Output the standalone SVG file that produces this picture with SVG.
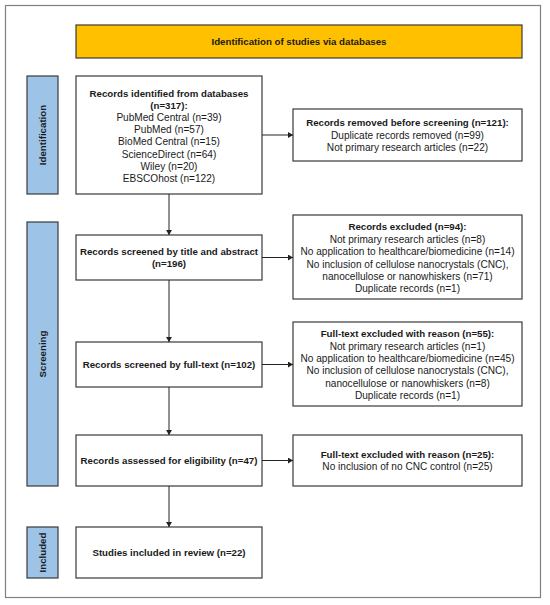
<svg xmlns="http://www.w3.org/2000/svg" width="550" height="605" viewBox="0 0 550 605">
<style>
.box{fill:#fff;stroke:#3a3a3a;stroke-width:1.2}
.side{fill:#9dc3e6;stroke:#3a3a3a;stroke-width:1.2}
.ban{fill:#ffc000;stroke:#3a3a3a;stroke-width:1.2}
.t{font-family:"Liberation Sans",Arial,sans-serif;font-size:10.1px;fill:#1a1a1a;text-anchor:middle}
.b{font-weight:bold;font-size:9.7px}
.conn{stroke:#222;stroke-width:1;fill:none}
</style>
<defs>
<marker id="ah" markerWidth="6" markerHeight="6" refX="5" refY="3" orient="auto" markerUnits="userSpaceOnUse">
<path d="M0,0 L5,3 L0,6 Z" fill="#222"/>
</marker>
</defs>
<rect x="5.5" y="5.5" width="535" height="592" fill="#fff" stroke="#808080" stroke-width="1.2"/>
<g id="banner">
<rect class="ban" x="76" y="25" width="446" height="33"/>
<text class="t b" x="299" y="44.5">Identification of studies via databases</text>
</g>
<g id="side-identification">
<rect class="side" x="27" y="76" width="31" height="118"/>
<text class="t b" transform="translate(46,135) rotate(-90)">Identification</text>
</g>
<g id="side-screening">
<rect class="side" x="27" y="222" width="31" height="264"/>
<text class="t b" transform="translate(46,354) rotate(-90)">Screening</text>
</g>
<g id="side-included">
<rect class="side" x="27" y="527" width="31" height="51"/>
<text class="t b" transform="translate(46,552.5) rotate(-90)">Included</text>
</g>
<g id="identified">
<rect class="box" x="76" y="76" width="186" height="118"/>
<text class="t b" x="169" y="96.6">Records identified from databases</text>
<text class="t b" x="169" y="108.8">(n=317):</text>
<text class="t" x="169" y="121">PubMed Central (n=39)</text>
<text class="t" x="169" y="133.2">PubMed (n=57)</text>
<text class="t" x="169" y="145.4">BioMed Central (n=15)</text>
<text class="t" x="169" y="157.6">ScienceDirect (n=64)</text>
<text class="t" x="169" y="169.8">Wiley (n=20)</text>
<text class="t" x="169" y="182">EBSCOhost (n=122)</text>
</g>
<g id="removed">
<rect class="box" x="293" y="109" width="229" height="52"/>
<text class="t b" x="407.5" y="126.4">Records removed before screening (n=121):</text>
<text class="t" x="407.5" y="138.6">Duplicate records removed (n=99)</text>
<text class="t" x="407.5" y="150.8">Not primary research articles (n=22)</text>
</g>
<g id="screened">
<rect class="box" x="76" y="235" width="186" height="45"/>
<text class="t b" x="169" y="255">Records screened by title and abstract</text>
<text class="t b" x="169" y="267.2">(n=196)</text>
</g>
<g id="excluded">
<rect class="box" x="293" y="215" width="229" height="84"/>
<text class="t b" x="407.5" y="230.3">Records excluded (n=94):</text>
<text class="t" x="407.5" y="242.7">Not primary research articles (n=8)</text>
<text class="t" x="407.5" y="255.1">No application to healthcare/biomedicine (n=14)</text>
<text class="t" x="407.5" y="267.5">No inclusion of cellulose nanocrystals (CNC),</text>
<text class="t" x="407.5" y="279.9">nanocellulose or nanowhiskers (n=71)</text>
<text class="t" x="407.5" y="292.3">Duplicate records (n=1)</text>
</g>
<g id="fulltext">
<rect class="box" x="76" y="342" width="186" height="45"/>
<text class="t b" x="169" y="368.1">Records screened by full-text (n=102)</text>
</g>
<g id="ftexcl55">
<rect class="box" x="293" y="322" width="229" height="84"/>
<text class="t b" x="407.5" y="337.3">Full-text excluded with reason (n=55):</text>
<text class="t" x="407.5" y="349.6">Not primary research articles (n=1)</text>
<text class="t" x="407.5" y="361.9">No application to healthcare/biomedicine (n=45)</text>
<text class="t" x="407.5" y="374.2">No inclusion of cellulose nanocrystals (CNC),</text>
<text class="t" x="407.5" y="386.5">nanocellulose or nanowhiskers (n=8)</text>
<text class="t" x="407.5" y="398.8">Duplicate records (n=1)</text>
</g>
<g id="eligibility">
<rect class="box" x="76" y="435" width="186" height="51"/>
<text class="t b" x="169" y="464.1">Records assessed for eligibility (n=47)</text>
</g>
<g id="ftexcl25">
<rect class="box" x="293" y="435" width="229" height="51"/>
<text class="t b" x="407.5" y="458">Full-text excluded with reason (n=25):</text>
<text class="t" x="407.5" y="470.2">No inclusion of no CNC control (n=25)</text>
</g>
<g id="included">
<rect class="box" x="76" y="527" width="186" height="51"/>
<text class="t b" x="169" y="556.1">Studies included in review (n=22)</text>
</g>
<g id="connectors">
<line class="conn" x1="169" y1="194" x2="169" y2="235" marker-end="url(#ah)"/>
<line class="conn" x1="169" y1="280" x2="169" y2="342" marker-end="url(#ah)"/>
<line class="conn" x1="169" y1="387" x2="169" y2="435" marker-end="url(#ah)"/>
<line class="conn" x1="169" y1="486" x2="169" y2="527" marker-end="url(#ah)"/>
<line class="conn" x1="262" y1="135" x2="293" y2="135" marker-end="url(#ah)"/>
<line class="conn" x1="262" y1="257.5" x2="293" y2="257.5" marker-end="url(#ah)"/>
<line class="conn" x1="262" y1="364.5" x2="293" y2="364.5" marker-end="url(#ah)"/>
<line class="conn" x1="262" y1="460.5" x2="293" y2="460.5" marker-end="url(#ah)"/>
</g>
</svg>
